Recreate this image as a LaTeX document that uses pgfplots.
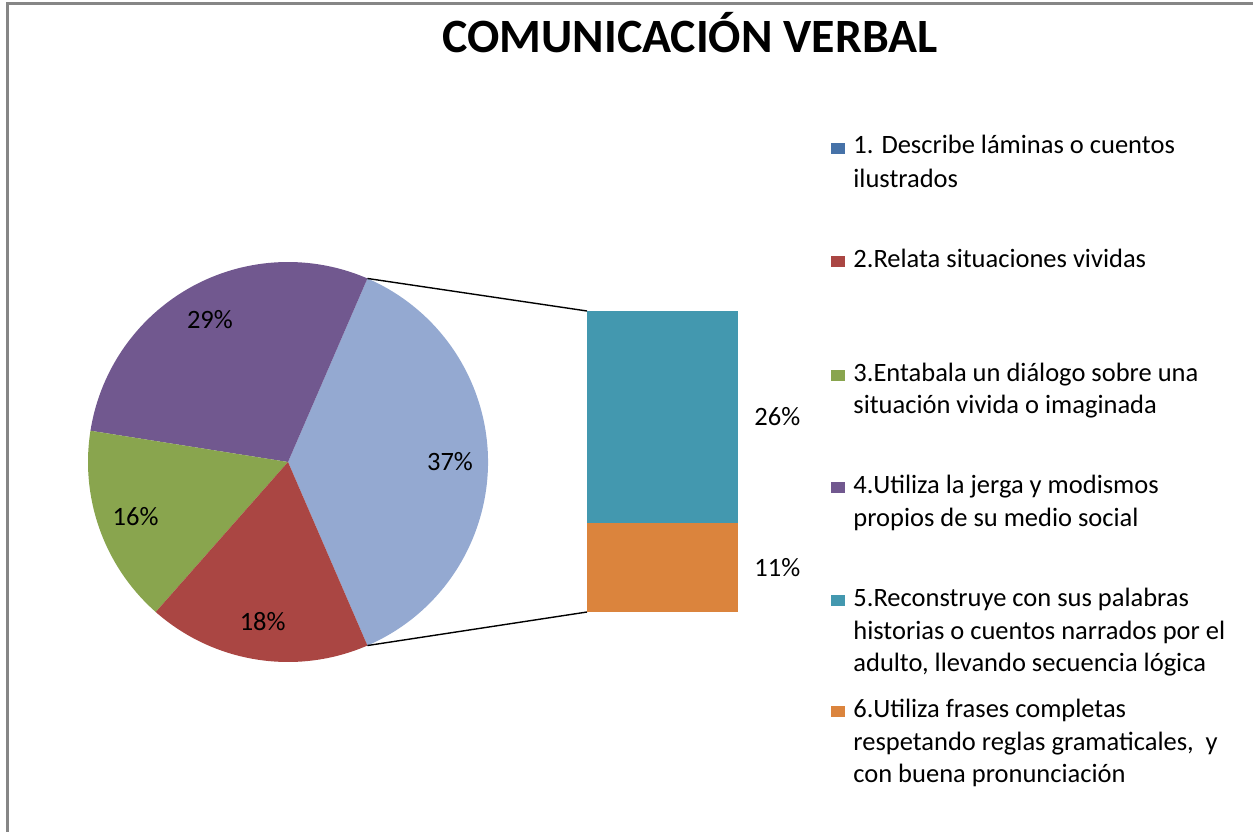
\documentclass[border=0pt]{standalone}
\usepackage{pgfplots}
\pgfplotsset{compat=1.18}
\usepackage{pgfplotstable}
\usepackage{fontspec}
\setmainfont{Carlito}

\definecolor{cBlue}{HTML}{4672A8}
\definecolor{cRed}{HTML}{AA4643}
\definecolor{cGreen}{HTML}{89A54E}
\definecolor{cPurple}{HTML}{71588F}
\definecolor{cTeal}{HTML}{4398AF}
\definecolor{cOrange}{HTML}{DB843D}
\definecolor{cOther}{HTML}{94A9D1}
\definecolor{cFrame}{HTML}{868686}

% pie: "Other" slice (items 5+6) first, then counter-clockwise
\pgfplotstableread{
val col
37 cOther
29 cPurple
16 cGreen
18 cRed
}\piedata

% bar of pie: bottom to top
\pgfplotstableread{
x orange teal
0 11 26
}\bardata

\begin{document}
\begin{tikzpicture}[font=\fontsize{13.3}{16}\selectfont]
% canvas in pixel units of the reference (y grows downwards)
\begin{axis}[
    at={(0,0)}, anchor=south west,
    width=626.5bp, height=416bp, scale only axis,
    xmin=0, xmax=1253, ymin=0, ymax=832,
    y dir=reverse,
    hide axis, clip=false,
]
\draw[cFrame, line width=1.5bp] (axis cs:7,832) -- (axis cs:7,3.5) -- (axis cs:1253,3.5);

\pgfmathsetmacro\startang{-1.8*37}
\pgfplotsforeachungrouped \i in {0,...,3}{%
    \pgfplotstablegetelem{\i}{val}\of\piedata \let\pval\pgfplotsretval
    \pgfplotstablegetelem{\i}{col}\of\piedata \let\pcol\pgfplotsretval
    \pgfmathsetmacro\endang{\startang+3.6*\pval}
    \pgfmathsetmacro\midang{(\startang+\endang)/2}
    \edef\temp{%
        \noexpand\fill[\pcol] (axis cs:288,462) -- ++(\startang:100bp)
            arc[start angle=\startang, end angle=\endang, radius=100bp] -- cycle;
        \noexpand\path (axis cs:288,462) ++(\midang:81bp) node {\pval\noexpand\%};
    }%
    \temp
    \global\let\startang\endang
}

% connector lines to the bar
\draw[black, line width=0.7bp] (axis cs:288,462) ++(66.6:100bp) -- (axis cs:587,311);
\draw[black, line width=0.7bp] (axis cs:288,462) ++(-66.6:100bp) -- (axis cs:587,612);

% title
\node[anchor=base, font=\fontsize{24}{28}\selectfont\bfseries] at (axis cs:690,53) {COMUNICACIÓN VERBAL};

% legend
\fill[cBlue]   (axis cs:831,143) rectangle (axis cs:845,154);
\fill[cRed]    (axis cs:831,256) rectangle (axis cs:845,267);
\fill[cGreen]  (axis cs:831,370) rectangle (axis cs:845,381);
\fill[cPurple] (axis cs:831,482) rectangle (axis cs:845,493);
\fill[cTeal]   (axis cs:831,595) rectangle (axis cs:845,606);
\fill[cOrange] (axis cs:831,706) rectangle (axis cs:845,717);
\begin{scope}[every node/.style={anchor=base west, inner sep=0pt}]
\node at (axis cs:853,154) {1. Describe láminas o cuentos};
\node at (axis cs:853,187) {ilustrados};
\node at (axis cs:853,267) {2.Relata situaciones vividas};
\node at (axis cs:853,381) {3.Entabala un diálogo sobre una};
\node at (axis cs:853,413) {situación vivida o imaginada};
\node at (axis cs:853,493) {4.Utiliza la jerga y modismos};
\node at (axis cs:853,526) {propios de su medio social};
\node at (axis cs:853,606) {5.Reconstruye con sus palabras};
\node at (axis cs:853,639) {historias o cuentos narrados por el};
\node at (axis cs:853,671) {adulto, llevando secuencia lógica};
\node at (axis cs:853,717) {6.Utiliza frases completas};
\node at (axis cs:853,750) {respetando reglas gramaticales,\ \ y};
\node at (axis cs:853,782) {con buena pronunciación};
\end{scope}
\end{axis}

% the bar that splits the "Other" slice
\begin{axis}[
    at={(293.5bp,110bp)}, anchor=south west,
    width=75.5bp, height=150.5bp, scale only axis,
    xmin=-0.5, xmax=0.5, ymin=0, ymax=37,
    ybar stacked, bar width=75.5bp,
    hide axis, clip=false,
]
\addplot[fill=cOrange, draw=none] table[x=x, y=orange] {\bardata};
\addplot[fill=cTeal, draw=none] table[x=x, y=teal] {\bardata};
\node[anchor=west, inner sep=0pt, xshift=8bp] at (axis cs:0.5,24) {26\%};
\node[anchor=west, inner sep=0pt, xshift=8bp] at (axis cs:0.5,5.5) {11\%};
\end{axis}
\pgfresetboundingbox
\path[use as bounding box] (0,0) rectangle (626.5bp,416bp);
\end{tikzpicture}
\end{document}
